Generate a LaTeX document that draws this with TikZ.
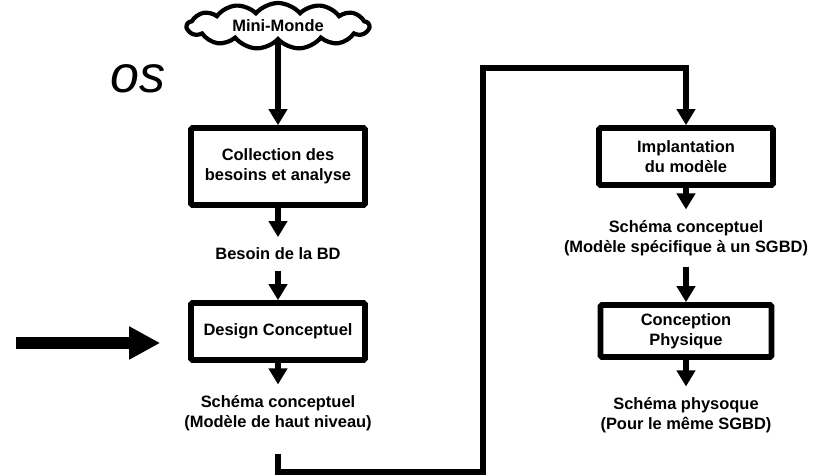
\documentclass[tikz,border=0pt]{standalone}
\usepackage{fontspec}
\setmainfont{Liberation Sans}
\usetikzlibrary{arrows.meta,shapes.symbols}

\begin{document}
\begin{tikzpicture}[-{Triangle[width=0.45cm,length=0.4cm]}, line width=4pt]
	\tikzstyle{schritt}=[draw, line width=4pt, rounded corners=1pt, align=center, minimum width=4.35cm, font=\bfseries\fontsize{11.7}{14.2}\selectfont]
	\tikzstyle{ergebnis}=[align=center, inner sep=0.2cm, font=\bfseries\fontsize{11.7}{14.2}\selectfont]
	\tikzstyle{welt}=[cloud, draw, cloud puffs=13, cloud puff arc=100, cloud ignores aspect, line width=3pt, minimum width=4.55cm, minimum height=1.15cm, inner sep=0pt, font=\bfseries\fontsize{11.7}{14.2}\selectfont]
	\tikzstyle{grosspfeil}=[-{Triangle[width=0.775cm,length=0.775cm]}, line width=0.3cm]
	
	\useasboundingbox (0,0) rectangle (20.325,11.9);
	
	% Titelrest
	\node[anchor=base west, inner sep=0pt, font=\itshape\fontsize{37}{40}\selectfont] (titel) at (2.7,9.575) {os};
	
	% Linke Spalte
	\node[welt] (welt) at (6.95,11.25) {Mini-Monde};
	\node[schritt, minimum height=1.925cm] (sammlung) at (6.95,7.7375) {Collection des\\besoins et analyse};
	\node[ergebnis] (bedarf) at (6.95,5.55) {Besoin de la BD};
	\node[schritt, minimum height=1.425cm] (design) at (6.95,3.6125) {Design Conceptuel};
	\node[ergebnis] (schema1) at (6.95,1.575) {Schéma conceptuel\\(Modèle de haut niveau)};
	
	% Rechte Spalte
	\node[schritt, minimum height=1.425cm] (implant) at (17.15,7.9875) {Implantation\\du modèle};
	\node[ergebnis] (schema2) at (17.15,5.95) {Schéma conceptuel\\(Modèle spécifique à un SGBD)};
	\node[schritt, minimum height=1.3cm, minimum width=4.275cm] (physik) at (17.15,3.625) {Conception\\Physique};
	\node[ergebnis] (schema3) at (17.15,1.525) {Schéma physoque\\(Pour le même SGBD)};
	
	% Eckpunkte der Verbindung
	\coordinate (unten) at (12.075,0.1);
	\coordinate (oben) at (12.075,10.2);
	\coordinate (eingang) at (0.4,3.325);
	
	% Pfeile
	\draw (welt) -- (sammlung);
	\draw (sammlung) -- (bedarf);
	\draw (bedarf) -- (design);
	\draw (design) -- (schema1);
	\draw[-, shorten <=0.3cm] (schema1) |- (unten) -- (oben) -| ([yshift=0.6cm]implant.north);
	\draw ([yshift=0.6cm]implant.north) -- (implant);
	\draw (implant) -- (schema2);
	\draw (schema2) -- (physik);
	\draw (physik) -- (schema3);
	
	% Eingang links
	\draw[grosspfeil, shorten >=0.7cm] (eingang) -- (eingang -| design.west);
\end{tikzpicture}
\end{document}
